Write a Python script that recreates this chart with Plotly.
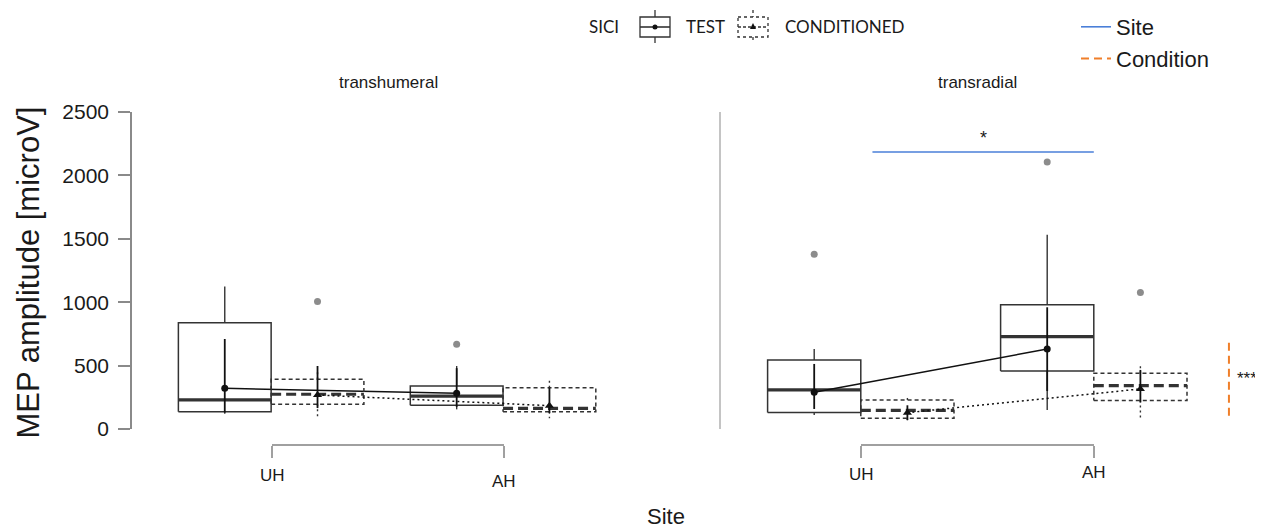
import plotly.graph_objects as go

W, H = 1263, 528          # browser window
OX, OY = 8, 8             # page body margin
FW, FH = W - OX, H - OY   # figure size

# ---------------- data ----------------
panels = ["transhumeral", "transradial"]
sites = ["UH", "AH"]
conditions = ["TEST", "CONDITIONED"]
y_ticks = [0, 500, 1000, 1500, 2000, 2500]

# transhumeral, TEST
th_test_q1 = [137, 187]
th_test_median = [229, 260]
th_test_q3 = [837, 339]
th_test_lower = [120, 155]
th_test_upper = [1123, 497]
th_test_mean = [321, 281]
th_test_ci_low = [130, 175]
th_test_ci_high = [710, 480]
th_test_outliers = [[], [668]]

# transhumeral, CONDITIONED
th_cond_q1 = [195, 137]
th_cond_median = [274, 163]
th_cond_q3 = [392, 326]
th_cond_lower = [87, 84]
th_cond_upper = [470, 392]
th_cond_mean = [268, 184]
th_cond_ci_low = [165, 126]
th_cond_ci_high = [497, 326]
th_cond_outliers = [[1005], []]

# transradial, TEST
tr_test_q1 = [131, 458]
tr_test_median = [308, 729]
tr_test_q3 = [544, 979]
tr_test_lower = [110, 150]
tr_test_upper = [631, 1531]
tr_test_mean = [289, 631]
tr_test_ci_low = [158, 300]
tr_test_ci_high = [513, 960]
tr_test_outliers = [[1378], [2105]]

# transradial, CONDITIONED
tr_cond_q1 = [84, 224]
tr_cond_median = [147, 342]
tr_cond_q3 = [229, 439]
tr_cond_lower = [65, 76]
tr_cond_upper = [245, 510]
tr_cond_mean = [129, 316]
tr_cond_ci_low = [71, 210]
tr_cond_ci_high = [187, 466]
tr_cond_outliers = [[], [1076]]

# significance marks (transradial panel)
site_sig_level = 2184
site_sig_from = 1.05
site_sig_to = 2.0
site_sig_label = "*"
cond_sig_pos = 2.58
cond_sig_low = 105
cond_sig_high = 694
cond_sig_label = "***"

stats = {
    ("transhumeral", "TEST"): dict(q1=th_test_q1, med=th_test_median, q3=th_test_q3, lo=th_test_lower,
                                    hi=th_test_upper, mean=th_test_mean, cil=th_test_ci_low,
                                    cih=th_test_ci_high, out=th_test_outliers),
    ("transhumeral", "CONDITIONED"): dict(q1=th_cond_q1, med=th_cond_median, q3=th_cond_q3, lo=th_cond_lower,
                                           hi=th_cond_upper, mean=th_cond_mean, cil=th_cond_ci_low,
                                           cih=th_cond_ci_high, out=th_cond_outliers),
    ("transradial", "TEST"): dict(q1=tr_test_q1, med=tr_test_median, q3=tr_test_q3, lo=tr_test_lower,
                                   hi=tr_test_upper, mean=tr_test_mean, cil=tr_test_ci_low,
                                   cih=tr_test_ci_high, out=tr_test_outliers),
    ("transradial", "CONDITIONED"): dict(q1=tr_cond_q1, med=tr_cond_median, q3=tr_cond_q3, lo=tr_cond_lower,
                                          hi=tr_cond_upper, mean=tr_cond_mean, cil=tr_cond_ci_low,
                                          cih=tr_cond_ci_high, out=tr_cond_outliers),
}

# ---------------- styles ----------------
FONT = "Liberation Sans, Arial, sans-serif"
LEGFONT = "Lato, Open Sans, sans-serif"
INK = "#1a1a1a"
BOXC = "#333333"
style = {
    "TEST": dict(offset=-0.2, box_dash="solid", med_dash="solid", wh_dash="solid",
                 line_dash="solid", symbol="circle", msize=7),
    "CONDITIONED": dict(offset=0.2, box_dash="4px,3px", med_dash="10px,5px", wh_dash="2px,3px",
                        line_dash="2px,3px", symbol="triangle-up", msize=8),
}
HALF = 0.2


def px(x):
    """window pixel x -> paper fraction"""
    return (x - OX) / FW


def py(y):
    """window pixel y -> paper fraction"""
    return 1 - (y - OY) / FH


fig = go.Figure()

for pi, panel in enumerate(panels):
    xa = "x" if pi == 0 else "x2"
    ya = "y" if pi == 0 else "y2"
    for cond in conditions:
        s = stats[(panel, cond)]
        st = style[cond]
        pos = [i + 1 + st["offset"] for i in range(len(sites))]
        bx, by, wx, wy, mx, my, ox, oy = [], [], [], [], [], [], [], []
        for k, p in enumerate(pos):
            bx += [p - HALF, p + HALF, p + HALF, p - HALF, p - HALF, None]
            by += [s["q1"][k], s["q1"][k], s["q3"][k], s["q3"][k], s["q1"][k], None]
            wx += [p, p, None, p, p, None]
            wy += [s["q3"][k], s["hi"][k], None, s["q1"][k], s["lo"][k], None]
            mx += [p - HALF, p + HALF, None]
            my += [s["med"][k], s["med"][k], None]
            for o in s["out"][k]:
                ox.append(p)
                oy.append(o)
        fig.add_trace(go.Scatter(x=bx, y=by, xaxis=xa, yaxis=ya, mode="lines",
                                 line=dict(color=BOXC, width=1.5, dash=st["box_dash"]),
                                 hoverinfo="skip", showlegend=False))
        fig.add_trace(go.Scatter(x=wx, y=wy, xaxis=xa, yaxis=ya, mode="lines",
                                 line=dict(color=BOXC, width=1.4, dash=st["wh_dash"]),
                                 hoverinfo="skip", showlegend=False))
        fig.add_trace(go.Scatter(x=mx, y=my, xaxis=xa, yaxis=ya, mode="lines",
                                 line=dict(color=BOXC, width=3.2, dash=st["med_dash"]),
                                 hoverinfo="skip", showlegend=False))
        if ox:
            fig.add_trace(go.Scatter(x=ox, y=oy, xaxis=xa, yaxis=ya, mode="markers",
                                     marker=dict(color="#8c8c8c", size=7),
                                     hoverinfo="skip", showlegend=False))
        fig.add_trace(go.Scatter(
            x=pos, y=s["mean"], xaxis=xa, yaxis=ya, mode="lines+markers",
            line=dict(color="#111111", width=1.5, dash=st["line_dash"]),
            marker=dict(color="#111111", size=st["msize"], symbol=st["symbol"]),
            error_y=dict(type="data", symmetric=False,
                         array=[h - m for h, m in zip(s["cih"], s["mean"])],
                         arrayminus=[m - l for l, m in zip(s["cil"], s["mean"])],
                         color="#111111", thickness=1.8, width=0),
            name=cond, showlegend=False))

fig.add_trace(go.Scatter(x=[site_sig_from, site_sig_to], y=[site_sig_level, site_sig_level],
                         xaxis="x2", yaxis="y2", mode="lines",
                         line=dict(color="#4a7fd8", width=1.6), name="Site", showlegend=True,
                         legendgroup="a"))
fig.add_trace(go.Scatter(x=[cond_sig_pos, cond_sig_pos], y=[cond_sig_low, cond_sig_high],
                         xaxis="x2", yaxis="y2", mode="lines",
                         line=dict(color="#f07f2a", width=2, dash="8px,5px"), name="Condition",
                         showlegend=True, legendgroup="b"))

fig.add_trace(go.Scatter(x=[1.5], y=[None], xaxis="x3", yaxis="y", mode="markers",
                         hoverinfo="skip", showlegend=False))
fig.add_trace(go.Scatter(x=[1.5], y=[None], xaxis="x4", yaxis="y2", mode="markers",
                         hoverinfo="skip", showlegend=False))

ydom = [py(429), py(112)]
bracket = dict(range=[0.9995, 2.0005], anchor="free", position=py(445), showline=True,
               linecolor="#a0a0a0", linewidth=1.5, ticks="outside", ticklen=12,
               tickcolor="#a0a0a0", tickwidth=1.5, tickvals=[1, 2], showticklabels=False,
               showgrid=False, zeroline=False, fixedrange=True)

fig.update_layout(
    width=FW, height=FH, autosize=False,
    margin=dict(l=0, r=0, t=0, b=0, autoexpand=False),
    paper_bgcolor="white", plot_bgcolor="rgba(0,0,0,0)",
    font=dict(family=FONT, color=INK),
    xaxis=dict(domain=[px(132), px(619)], range=[0.4, 2.5], visible=False, anchor="y"),
    xaxis2=dict(domain=[px(721), px(1260)], range=[0.4, 0.4 + (1260 - 721) / 233],
                visible=False, anchor="y2"),
    xaxis3=dict(domain=[px(272), px(504)], **bracket),
    xaxis4=dict(domain=[px(861), px(1094)], **bracket),
    yaxis=dict(domain=ydom, range=[0, 2500], anchor="x", showline=True, linecolor="#8a8a8a",
               linewidth=1.5, ticks="outside", ticklen=12, tickcolor="#8a8a8a", tickwidth=1.5,
               tickvals=y_ticks, ticktext=[str(t) for t in y_ticks], ticklabelstandoff=5,
               tickfont=dict(family=FONT, size=21, color=INK),
               showgrid=False, zeroline=False),
    yaxis2=dict(domain=ydom, range=[0, 2500], anchor="x2", matches="y", showline=True,
                linecolor="#c4c4c4", linewidth=2, ticks="", showticklabels=False,
                showgrid=False, zeroline=False),
    legend=dict(x=px(1076), xanchor="left", y=py(6), yanchor="top",
                font=dict(family=FONT, size=22, color=INK), bgcolor="rgba(0,0,0,0)",
                tracegroupgap=0, itemwidth=30),
    showlegend=True,
)


def note(text, x, y, size, family=FONT, xanchor="center", yanchor="middle", xref="paper",
         yref="paper", **kw):
    return dict(text=text, x=x, y=y, xref=xref, yref=yref, xanchor=xanchor, yanchor=yanchor,
                showarrow=False, font=dict(size=size, family=family, color=INK), **kw)


ann = []
ann.append(note(panels[0], 1.5, py(83), 17, xref="x3"))
ann.append(note(panels[1], 1.5, py(83), 17, xref="x4"))
label_y = [[475, 481], [474, 472]]
for pi, xr in enumerate(["x3", "x4"]):
    for si, site in enumerate(sites):
        ann.append(note(site, si + 1, py(label_y[pi][si]), 17, xref=xr))
ann.append(note("Site", px(666), py(516), 22))
ann.append(note("MEP amplitude [microV]", px(9), py(273), 31, textangle=-90,
                xanchor="left", borderpad=0))
ann.append(note(site_sig_label, (site_sig_from + site_sig_to) / 2, site_sig_level, 18,
                xref="x2", yref="y2", yanchor="bottom", yshift=2))
ann.append(note(cond_sig_label, cond_sig_pos, (cond_sig_low + cond_sig_high) / 2, 17,
                xref="x2", yref="y2", xanchor="left", xshift=6))
ann.append(note("SICI", px(587), py(27), 17, family=LEGFONT, xanchor="left"))
ann.append(note(conditions[0], px(684), py(27), 17, family=LEGFONT, xanchor="left"))
ann.append(note(conditions[1], px(783), py(27), 17, family=LEGFONT, xanchor="left"))
fig.update_layout(annotations=ann)

shapes = []
for cond, x0 in [("TEST", 640), ("CONDITIONED", 738)]:
    dash = "solid" if cond == "TEST" else "dot"
    x1 = x0 + 30
    xc = (x0 + x1) / 2
    lc = dict(color=BOXC, width=1.3, dash=dash)
    shapes.append(dict(type="rect", xref="paper", yref="paper", x0=px(x0), x1=px(x1),
                       y0=py(17), y1=py(37), line=lc))
    shapes.append(dict(type="line", xref="paper", yref="paper", x0=px(xc), x1=px(xc),
                       y0=py(10), y1=py(17), line=lc))
    shapes.append(dict(type="line", xref="paper", yref="paper", x0=px(xc), x1=px(xc),
                       y0=py(37), y1=py(43), line=lc))
    shapes.append(dict(type="line", xref="paper", yref="paper", x0=px(x0), x1=px(x1),
                       y0=py(27), y1=py(27),
                       line=dict(color=BOXC, width=1.6, dash="solid" if cond == "TEST" else "3px,2px")))
    if cond == "TEST":
        shapes.append(dict(type="circle", xref="paper", yref="paper", x0=px(xc - 2.5), x1=px(xc + 2.5),
                           y0=py(24.5), y1=py(29.5), fillcolor="#111", line=dict(width=0)))
    else:
        shapes.append(dict(type="path", xref="paper", yref="paper",
                           path=f"M {px(xc - 3)},{py(29)} L {px(xc + 3)},{py(29)} L {px(xc)},{py(23)} Z",
                           fillcolor="#111", line=dict(width=0)))
fig.update_layout(shapes=shapes)

fig.write_html("out.html")
